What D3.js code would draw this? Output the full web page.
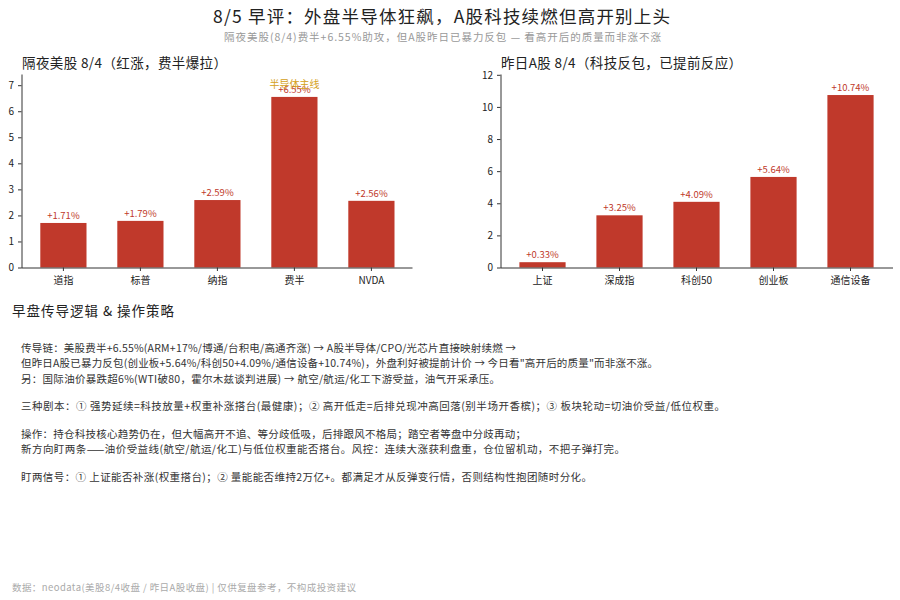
<!DOCTYPE html>
<html>
<head>
<meta charset="utf-8" />
<title>8/5 早评</title>
<script src="https://cdnjs.cloudflare.com/ajax/libs/d3/7.8.5/d3.min.js"></script>
<style>
  html, body { margin: 0; padding: 0; background: #fff; }
  svg { display: block; }
  text { font-family: "Noto Sans CJK SC", "Noto Sans", sans-serif; }
  .axis path, .axis line { stroke: #333; stroke-width: 1; }
  .axis text { font-size: 10px; fill: #222; font-family: "Noto Sans CJK SC", "Noto Sans", sans-serif; }
</style>
</head>
<body>
<script>
// data
var usCategories = ['道指', '标普', '纳指', '费半', 'NVDA'];
var usValues = [1.71, 1.79, 2.59, 6.55, 2.56];
var usTicks = [0, 1, 2, 3, 4, 5, 6, 7];

var cnCategories = ['上证', '深成指', '科创50', '创业板', '通信设备'];
var cnValues = [0.33, 3.25, 4.09, 5.64, 10.74];
var cnTicks = [0, 2, 4, 6, 8, 10, 12];

var bodyLines = [
  '传导链：美股费半+6.55%(ARM+17%/博通/台积电/高通齐涨) → A股半导体/CPO/光芯片直接映射续燃 →',
  '但昨日A股已暴力反包(创业板+5.64%/科创50+4.09%/通信设备+10.74%)，外盘利好被提前计价 → 今日看"高开后的质量"而非涨不涨。',
  '另：国际油价暴跌超6%(WTI破80，霍尔木兹谈判进展) → 航空/航运/化工下游受益，油气开采承压。',
  '三种剧本：① 强势延续=科技放量+权重补涨搭台(最健康)；② 高开低走=后排兑现冲高回落(别半场开香槟)；③ 板块轮动=切油价受益/低位权重。',
  '操作：持仓科技核心趋势仍在，但大幅高开不追、等分歧低吸，后排跟风不格局；踏空者等盘中分歧再动；',
  '新方向盯两条——油价受益线(航空/航运/化工)与低位权重能否搭台。风控：连续大涨获利盘重，仓位留机动，不把子弹打完。',
  '盯两信号：① 上证能否补涨(权重搭台)；② 量能能否维持2万亿+。都满足才从反弹变行情，否则结构性抱团随时分化。'
];

// layout
var bodyY = [351.5, 367, 382.5, 409.5, 437.5, 453, 481];
var bodyEnd = [516, 658, 500, 725, 526, 625, 592];
var barColor = '#c0392b';

var svg = d3.select('body').append('svg').attr('width', 900).attr('height', 600);

// text with its width pinned to the span seen in the reference
function label(x, y, str, size, color, width) {
  return svg.append('text').attr('x', x).attr('y', y).text(str)
    .attr('font-size', size).attr('fill', color)
    .attr('textLength', width);
}

label(213, 23, '8/5 早评：外盘半导体狂飙，A股科技续燃但高开别上头', 17.5, '#222', 457);
label(224, 40.5, '隔夜美股(8/4)费半+6.55%助攻，但A股昨日已暴力反包 — 看高开后的质量而非涨不涨', 10.5, '#999', 437);
label(22, 68, '隔夜美股 8/4（红涨，费半爆拉）', 13.5, '#222', 205);
label(501, 68, '昨日A股 8/4（科技反包，已提前反应）', 13.5, '#222', 241);
label(12, 316, '早盘传导逻辑 & 操作策略', 13.5, '#222', 162);

bodyLines.forEach(function (d, i) {
  label(21, bodyY[i], d, 10.5, '#333', bodyEnd[i] - 21);
});
label(12, 591, '数据：neodata(美股8/4收盘 / 昨日A股收盘) | 仅供复盘参考，不构成投资建议', 9.5, '#aaa', 344);

function drawBars(opts) {
  var x = d3.scaleBand().domain(opts.categories).range(opts.bandRange)
    .paddingInner(0.4).paddingOuter(0.2);
  var y = d3.scaleLinear().domain([0, opts.yMax]).range([267.5, 74]);

  var g = svg.append('g');
  g.selectAll('rect').data(opts.values).enter().append('rect')
    .attr('x', function (d, i) { return x(opts.categories[i]); })
    .attr('y', function (d) { return y(d); })
    .attr('width', x.bandwidth())
    .attr('height', function (d) { return y(0) - y(d); })
    .attr('fill', barColor);

  g.selectAll('text.val').data(opts.values).enter().append('text')
    .attr('class', 'val')
    .attr('x', function (d, i) { return x(opts.categories[i]) + x.bandwidth() / 2; })
    .attr('y', function (d) { return y(d) - 4; })
    .attr('text-anchor', 'middle')
    .attr('font-size', 9.5)
    .attr('fill', barColor)
    .text(function (d) { return '+' + d3.format('.2f')(d) + '%'; });

  // y axis spine runs the full height, bottom spine the full width
  var yAxis = d3.axisLeft(y).tickValues(opts.ticks).tickSize(3.5).tickSizeOuter(0).tickPadding(4);
  g.append('g').attr('class', 'axis').attr('transform', 'translate(' + opts.axisLeft + ',0)').call(yAxis);

  var xAxis = d3.axisBottom(x).tickSize(3.5).tickSizeOuter(0).tickPadding(5.5);
  var xg = g.append('g').attr('class', 'axis').attr('transform', 'translate(0,267.5)').call(xAxis);
  xg.select('.domain').attr('d', 'M' + opts.axisLeft + ',0.5H' + opts.axisRight);
  return { x: x, y: y };
}

var left = drawBars({
  categories: usCategories, values: usValues, ticks: usTicks, yMax: 7.43,
  bandRange: [24.9, 409.9], axisLeft: 21.5, axisRight: 412.5
});

drawBars({
  categories: cnCategories, values: cnValues, ticks: cnTicks, yMax: 12.05,
  bandRange: [504, 889], axisLeft: 500.5, axisRight: 893
});

// annotation above the 费半 bar, it sits on the value label in the reference too
svg.append('text')
  .attr('x', left.x('费半') + left.x.bandwidth() / 2)
  .attr('y', left.y(6.55) - 9)
  .attr('text-anchor', 'middle')
  .attr('font-size', 10)
  .attr('fill', '#d4a017')
  .text('半导体主线');
</script>
</body>
</html>
